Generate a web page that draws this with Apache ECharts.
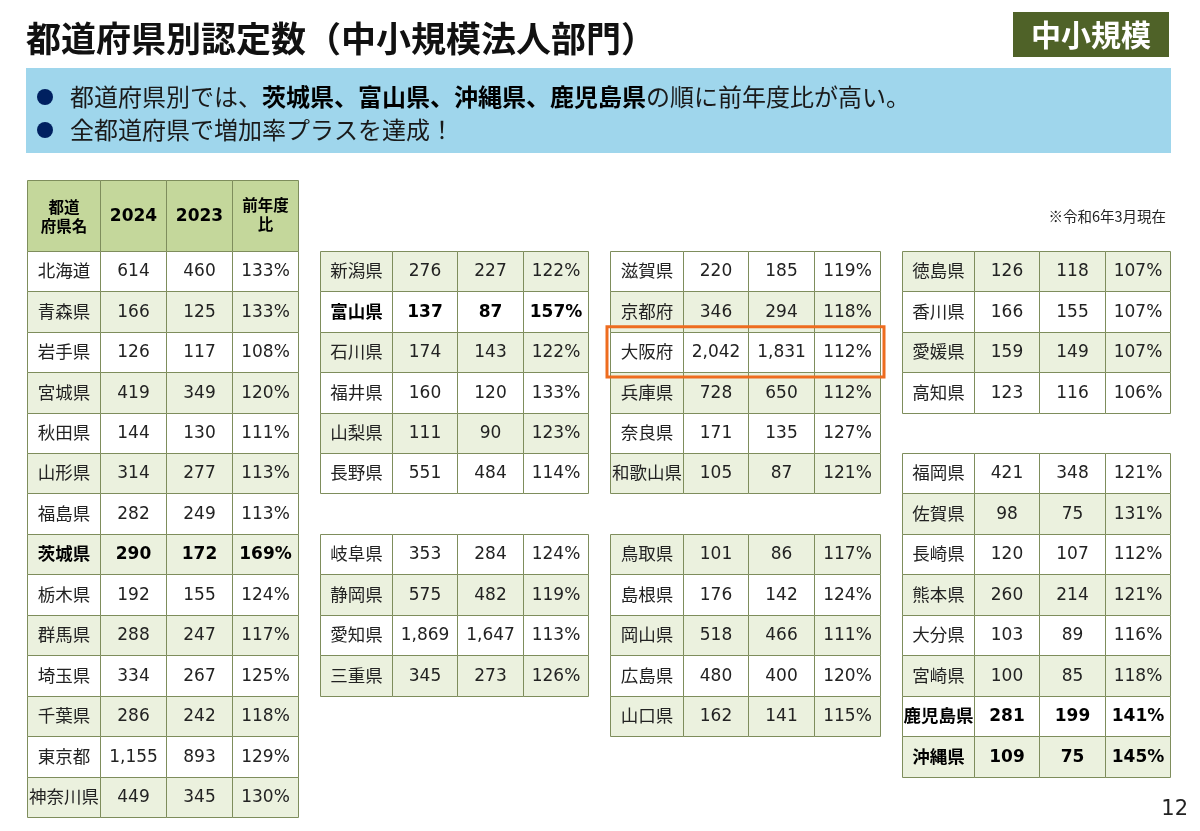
<!DOCTYPE html>
<html>
<head>
<meta charset="utf-8">
<script src="https://cdn.jsdelivr.net/npm/echarts@6/dist/echarts.min.js"></script>
<style>
html,body{margin:0;padding:0;background:#fff;}
#main{width:1200px;height:831px;}
</style>
</head>
<body>
<div id="main"></div>
<script>
// 北海道・東北・関東
var prefA = ['北海道','青森県','岩手県','宮城県','秋田県','山形県','福島県','茨城県','栃木県','群馬県','埼玉県','千葉県','東京都','神奈川県'];
var a2024 = [614,166,126,419,144,314,282,290,192,288,334,286,1155,449];
var a2023 = [460,125,117,349,130,277,249,172,155,247,267,242,893,345];
var aRatio = [133,133,108,120,111,113,113,169,124,117,125,118,129,130];

// 中部（null は空行）
var prefB = ['新潟県','富山県','石川県','福井県','山梨県','長野県',null,'岐阜県','静岡県','愛知県','三重県'];
var b2024 = [276,137,174,160,111,551,null,353,575,1869,345];
var b2023 = [227,87,143,120,90,484,null,284,482,1647,273];
var bRatio = [122,157,122,133,123,114,null,124,119,113,126];

// 近畿・中国
var prefC = ['滋賀県','京都府','大阪府','兵庫県','奈良県','和歌山県',null,'鳥取県','島根県','岡山県','広島県','山口県'];
var c2024 = [220,346,2042,728,171,105,null,101,176,518,480,162];
var c2023 = [185,294,1831,650,135,87,null,86,142,466,400,141];
var cRatio = [119,118,112,112,127,121,null,117,124,111,120,115];

// 四国・九州・沖縄
var prefD = ['徳島県','香川県','愛媛県','高知県',null,'福岡県','佐賀県','長崎県','熊本県','大分県','宮崎県','鹿児島県','沖縄県'];
var d2024 = [126,166,159,123,null,421,98,120,260,103,100,281,109];
var d2023 = [118,155,149,116,null,348,75,107,214,89,85,199,75];
var dRatio = [107,107,107,106,null,121,131,112,121,116,118,141,145];

var headerLabels = ['都道\n府県名','2024','2023','前年度\n比'];
var highlightPref = '大阪府';
var boldCount = 4;		//前年度比 上位の件数を太字

// レイアウト
var COL_EDGES = [0, 73, 139, 205, 271];
var ROW_MIN = -1.75, ROW_MAX = 14;
var boxes = [{left:27,width:271},{left:320,width:268},{left:610,width:270},{left:902,width:268}];
var JP = "'Noto Sans CJK JP', sans-serif";
var NUM = "'DejaVu Sans', 'Noto Sans CJK JP', sans-serif";

var tables = [
	{pref:prefA, v24:a2024, v23:a2023, ratio:aRatio, header:true},
	{pref:prefB, v24:b2024, v23:b2023, ratio:bRatio},
	{pref:prefC, v24:c2024, v23:c2023, ratio:cRatio},
	{pref:prefD, v24:d2024, v23:d2023, ratio:dRatio}
];

var sorted = [].concat(aRatio, bRatio, cRatio, dRatio).filter(function(v){ return v != null; })
	.sort(function(a, b){ return b - a; });
var boldMin = sorted[boldCount - 1];

function fmt(n){
	return n.toLocaleString('en-US');
}

function buildCells(t, ti){
	var cells = [];
	if(t.header){
		for(var c=0;c<4;c++){
			cells.push({value:[c, -1], kind:'head', text:headerLabels[c]});
		}
	}
	t.pref.forEach(function(name, r){
		if(name == null) return;
		var texts = [name, fmt(t.v24[r]), fmt(t.v23[r]), t.ratio[r] + '%'];
		for(var c=0;c<4;c++){
			cells.push({
				value:[c, r],
				kind: (r + ti) % 2 === 1 ? 'shade' : 'plain',
				text:texts[c],
				bold: t.ratio[r] >= boldMin
			});
		}
	});
	return cells;
}

function cellRender(cells){
	return function(params, api){
		var cell = cells[params.dataIndex];
		var c = cell.value[0], r = cell.value[1];
		var head = cell.kind === 'head';
		var p0 = api.coord([COL_EDGES[c], head ? ROW_MIN : r]);
		var p1 = api.coord([COL_EDGES[c + 1], head ? 0 : r + 1]);
		//境界線を揃えるため各辺を個別に丸める
		var x0 = Math.round(Math.min(p0[0], p1[0])), x1 = Math.round(Math.max(p0[0], p1[0]));
		var y0 = Math.round(Math.min(p0[1], p1[1])), y1 = Math.round(Math.max(p0[1], p1[1]));
		var fill = head ? '#c4d79b' : (cell.kind === 'shade' ? '#ebf1de' : '#ffffff');
		var size = head ? (c === 0 || c === 3 ? 15.5 : 17) : (c === 0 ? 17.5 : 17);
		var dy = c === 0 && !head ? -0.5 : 1;
		return {
			type:'group',
			children:[{
				type:'rect',
				shape:{x:x0 + 0.5, y:y0 + 0.5, width:x1 - x0, height:y1 - y0},
				style:{fill:fill, stroke:'#7e8d5c', lineWidth:1}
			},{
				type:'text',
				style:{
					text:cell.text,
					x:(x0 + x1) / 2 + 0.5,
					y:(y0 + y1) / 2 + dy,
					align:'center',
					verticalAlign:'middle',
					fontSize:size,
					lineHeight:19,
					fontWeight:(head || cell.bold) ? 'bold' : 'normal',
					fontFamily:c === 0 ? JP : NUM,
					fill:(head || cell.bold) ? '#000' : '#222'
				}
			}]
		};
	};
}

var grids = [], xAxes = [], yAxes = [], series = [];
tables.forEach(function(t, i){
	grids.push({left:boxes[i].left, width:boxes[i].width, top:180, height:637});
	xAxes.push({type:'value', gridIndex:i, min:0, max:COL_EDGES[4], show:false});
	yAxes.push({type:'value', gridIndex:i, min:ROW_MIN, max:ROW_MAX, inverse:true, show:false});
	var cells = buildCells(t, i);
	series.push({
		type:'custom',
		xAxisIndex:i,
		yAxisIndex:i,
		clip:false,
		silent:true,
		data:cells.map(function(d){ return d.value; }),
		renderItem:cellRender(cells)
	});
	var hl = t.pref.indexOf(highlightPref);
	if(hl >= 0){
		series.push({
			type:'custom',
			xAxisIndex:i,
			yAxisIndex:i,
			clip:false,
			silent:true,
			z:5,
			data:[[0, hl]],
			renderItem:function(params, api){
				var p0 = api.coord([COL_EDGES[0], api.value(1)]);
				var p1 = api.coord([COL_EDGES[4], api.value(1) + 1]);
				return {
					type:'rect',
					shape:{x:p0[0] - 3, y:p0[1] - 5, width:p1[0] - p0[0] + 7, height:p1[1] - p0[1] + 10},
					style:{fill:null, stroke:'#ee6c1f', lineWidth:3}
				};
			}
		});
	}
});

var chart = echarts.init(document.getElementById('main'));
chart.setOption({
	animation:false,
	backgroundColor:'#ffffff',
	grid:grids,
	xAxis:xAxes,
	yAxis:yAxes,
	series:series,
	graphic:[{
		type:'text', x:26, y:39,
		style:{text:'都道府県別認定数（中小規模法人部門）', fontSize:35, fontWeight:'bold', fontFamily:JP, fill:'#111', verticalAlign:'middle'}
	},{
		type:'rect', shape:{x:1013, y:12, width:156, height:45}, style:{fill:'#4f6228'}
	},{
		type:'text', x:1091, y:35,
		style:{text:'中小規模', fontSize:30, fontWeight:'bold', fontFamily:JP, fill:'#fff', align:'center', verticalAlign:'middle'}
	},{
		type:'rect', shape:{x:26, y:68, width:1145, height:85}, style:{fill:'#9fd6ec'}
	},{
		type:'circle', shape:{cx:45, cy:97, r:8}, style:{fill:'#002060'}
	},{
		type:'circle', shape:{cx:45, cy:130, r:8}, style:{fill:'#002060'}
	},{
		type:'text', x:70, y:97,
		style:{
			text:'{n|都道府県別では、}{b|茨城県、富山県、沖縄県、鹿児島県}{n|の順に前年度比が高い。}',
			verticalAlign:'middle',
			rich:{
				n:{fontSize:24, fontFamily:JP, fill:'#1a1a1a'},
				b:{fontSize:24, fontFamily:JP, fontWeight:'bold', fill:'#000'}
			}
		}
	},{
		type:'text', x:70, y:130,
		style:{text:'全都道府県で増加率プラスを達成！', fontSize:24, fontFamily:JP, fill:'#1a1a1a', verticalAlign:'middle'}
	},{
		type:'text', x:1166, y:216,
		style:{text:'※令和6年3月現在', fontSize:14.5, fontFamily:JP, fill:'#222', align:'right', verticalAlign:'middle'}
	},{
		type:'text', x:1188, y:810,
		style:{text:'12', fontSize:21, fontFamily:NUM, fill:'#222', align:'right', verticalAlign:'middle'}
	}]
});
</script>
</body>
</html>
